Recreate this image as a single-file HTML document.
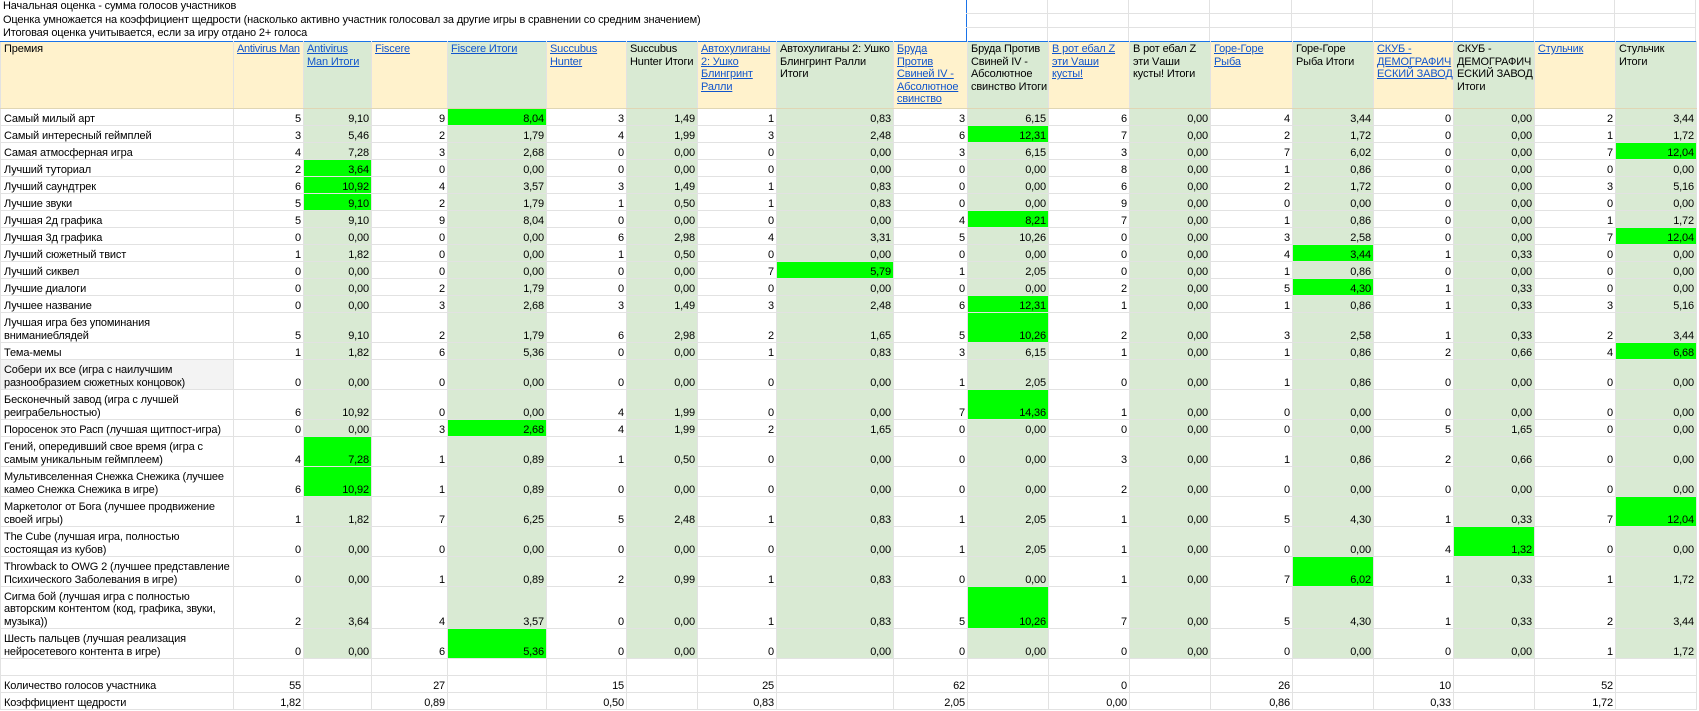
<!DOCTYPE html>
<html><head><meta charset="utf-8"><style>
html,body{margin:0;padding:0;background:#fff;width:1699px;height:711px;overflow:hidden}
body{font-family:"Liberation Sans",Arial,sans-serif;font-size:11px;letter-spacing:-0.15px;color:#000;position:relative}
.top{position:absolute;left:0;top:0;width:966px;height:41px;border-right:1px solid #1a73e8}
.top div{height:13.6px;line-height:13.6px;padding-left:3px;white-space:nowrap}
.tg{position:absolute;top:0;height:41px;border-right:1px solid #e2e2e2}
.hl{position:absolute;top:13px;left:966px;width:730px;border-top:1px solid #e2e2e2}
.hl2{position:absolute;top:27px;left:966px;width:730px;border-top:1px solid #e2e2e2}
table{position:absolute;left:0;top:41px;border-collapse:collapse;table-layout:fixed;width:1697px}
td{border:1px solid #e2e2e2;padding:0 2px 0 3px;line-height:12.5px;vertical-align:bottom;text-align:right;overflow:hidden;box-sizing:border-box}
tr.h td{vertical-align:top;text-align:left;background:#fff2cc;padding-top:1px;border-bottom:1px solid #e0d6b4;overflow-wrap:anywhere}
tr.h td.g{background:#d9ead3}
tr.h{height:67px}
tr.h1{height:17px}tr.h2{height:30px}tr.h3{height:42px}
td.l{text-align:left}
td.g{background:#d9ead3}
td.G{background:#00ff00}
td.s{background:#f3f3f3}
td.nw{white-space:nowrap;overflow-wrap:normal}
a{color:#1155cc;text-decoration:underline}
table tr:first-child td{border-top:1px solid #1a73e8}
</style></head><body>
<div class="top"><div>Начальная оценка - сумма голосов участников</div><div>Оценка умножается на коэффициент щедрости (насколько активно участник голосовал за другие игры в сравнении со средним значением)</div><div>Итоговая оценка учитывается, если за игру отдано 2+ голоса</div></div>
<div class="hl"></div><div class="hl2"></div>
<div class="tg" style="left:1047px"></div><div class="tg" style="left:1128px"></div><div class="tg" style="left:1209px"></div><div class="tg" style="left:1291px"></div><div class="tg" style="left:1372px"></div><div class="tg" style="left:1452px"></div><div class="tg" style="left:1533px"></div><div class="tg" style="left:1614px"></div><div class="tg" style="left:1695px"></div>
<table>
<colgroup><col style="width:233px"><col style="width:70px"><col style="width:68px"><col style="width:76px"><col style="width:99px"><col style="width:80px"><col style="width:71px"><col style="width:79px"><col style="width:117px"><col style="width:74px"><col style="width:81px"><col style="width:81px"><col style="width:81px"><col style="width:82px"><col style="width:81px"><col style="width:80px"><col style="width:81px"><col style="width:81px"><col style="width:81px"></colgroup>
<tr class="h"><td>Премия</td><td style="white-space:nowrap;letter-spacing:-0.3px"><a>Antivirus Man</a></td><td class="g"><a>Antivirus Man Итоги</a></td><td><a>Fiscere</a></td><td class="g"><a>Fiscere Итоги</a></td><td><a>Succubus Hunter</a></td><td class="g">Succubus Hunter Итоги</td><td><a>Автохулиганы 2: Ушко Блингринт Ралли</a></td><td class="g">Автохулиганы 2: Ушко Блингринт Ралли Итоги</td><td><a>Бруда Против Свиней IV - Абсолютное свинство</a></td><td class="g nw">Бруда Против<br>Свиней IV -<br>Абсолютное<br>свинство Итоги</td><td><a>В рот ебал Z эти Vаши кусты!</a></td><td class="g">В рот ебал Z эти Vаши кусты! Итоги</td><td><a>Горе-Горе Рыба</a></td><td class="g">Горе-Горе Рыба Итоги</td><td class="nw"><a>СКУБ -<br>ДЕМОГРАФИЧ<br>ЕСКИЙ ЗАВОД</a></td><td class="g nw">СКУБ -<br>ДЕМОГРАФИЧ<br>ЕСКИЙ ЗАВОД<br>Итоги</td><td><a>Стульчик</a></td><td class="g">Стульчик Итоги</td></tr>
<tr class="h1"><td class="l">Самый милый арт</td><td>5</td><td class="g">9,10</td><td>9</td><td class="G">8,04</td><td>3</td><td class="g">1,49</td><td>1</td><td class="g">0,83</td><td>3</td><td class="g">6,15</td><td>6</td><td class="g">0,00</td><td>4</td><td class="g">3,44</td><td>0</td><td class="g">0,00</td><td>2</td><td class="g">3,44</td></tr>
<tr class="h1"><td class="l">Самый интересный геймплей</td><td>3</td><td class="g">5,46</td><td>2</td><td class="g">1,79</td><td>4</td><td class="g">1,99</td><td>3</td><td class="g">2,48</td><td>6</td><td class="G">12,31</td><td>7</td><td class="g">0,00</td><td>2</td><td class="g">1,72</td><td>0</td><td class="g">0,00</td><td>1</td><td class="g">1,72</td></tr>
<tr class="h1"><td class="l">Самая атмосферная игра</td><td>4</td><td class="g">7,28</td><td>3</td><td class="g">2,68</td><td>0</td><td class="g">0,00</td><td>0</td><td class="g">0,00</td><td>3</td><td class="g">6,15</td><td>3</td><td class="g">0,00</td><td>7</td><td class="g">6,02</td><td>0</td><td class="g">0,00</td><td>7</td><td class="G">12,04</td></tr>
<tr class="h1"><td class="l">Лучший туториал</td><td>2</td><td class="G">3,64</td><td>0</td><td class="g">0,00</td><td>0</td><td class="g">0,00</td><td>0</td><td class="g">0,00</td><td>0</td><td class="g">0,00</td><td>8</td><td class="g">0,00</td><td>1</td><td class="g">0,86</td><td>0</td><td class="g">0,00</td><td>0</td><td class="g">0,00</td></tr>
<tr class="h1"><td class="l">Лучший саундтрек</td><td>6</td><td class="G">10,92</td><td>4</td><td class="g">3,57</td><td>3</td><td class="g">1,49</td><td>1</td><td class="g">0,83</td><td>0</td><td class="g">0,00</td><td>6</td><td class="g">0,00</td><td>2</td><td class="g">1,72</td><td>0</td><td class="g">0,00</td><td>3</td><td class="g">5,16</td></tr>
<tr class="h1"><td class="l">Лучшие звуки</td><td>5</td><td class="G">9,10</td><td>2</td><td class="g">1,79</td><td>1</td><td class="g">0,50</td><td>1</td><td class="g">0,83</td><td>0</td><td class="g">0,00</td><td>9</td><td class="g">0,00</td><td>0</td><td class="g">0,00</td><td>0</td><td class="g">0,00</td><td>0</td><td class="g">0,00</td></tr>
<tr class="h1"><td class="l">Лучшая 2д графика</td><td>5</td><td class="g">9,10</td><td>9</td><td class="g">8,04</td><td>0</td><td class="g">0,00</td><td>0</td><td class="g">0,00</td><td>4</td><td class="G">8,21</td><td>7</td><td class="g">0,00</td><td>1</td><td class="g">0,86</td><td>0</td><td class="g">0,00</td><td>1</td><td class="g">1,72</td></tr>
<tr class="h1"><td class="l">Лучшая 3д графика</td><td>0</td><td class="g">0,00</td><td>0</td><td class="g">0,00</td><td>6</td><td class="g">2,98</td><td>4</td><td class="g">3,31</td><td>5</td><td class="g">10,26</td><td>0</td><td class="g">0,00</td><td>3</td><td class="g">2,58</td><td>0</td><td class="g">0,00</td><td>7</td><td class="G">12,04</td></tr>
<tr class="h1"><td class="l">Лучший сюжетный твист</td><td>1</td><td class="g">1,82</td><td>0</td><td class="g">0,00</td><td>1</td><td class="g">0,50</td><td>0</td><td class="g">0,00</td><td>0</td><td class="g">0,00</td><td>0</td><td class="g">0,00</td><td>4</td><td class="G">3,44</td><td>1</td><td class="g">0,33</td><td>0</td><td class="g">0,00</td></tr>
<tr class="h1"><td class="l">Лучший сиквел</td><td>0</td><td class="g">0,00</td><td>0</td><td class="g">0,00</td><td>0</td><td class="g">0,00</td><td>7</td><td class="G">5,79</td><td>1</td><td class="g">2,05</td><td>0</td><td class="g">0,00</td><td>1</td><td class="g">0,86</td><td>0</td><td class="g">0,00</td><td>0</td><td class="g">0,00</td></tr>
<tr class="h1"><td class="l">Лучшие диалоги</td><td>0</td><td class="g">0,00</td><td>2</td><td class="g">1,79</td><td>0</td><td class="g">0,00</td><td>0</td><td class="g">0,00</td><td>0</td><td class="g">0,00</td><td>2</td><td class="g">0,00</td><td>5</td><td class="G">4,30</td><td>1</td><td class="g">0,33</td><td>0</td><td class="g">0,00</td></tr>
<tr class="h1"><td class="l">Лучшее название</td><td>0</td><td class="g">0,00</td><td>3</td><td class="g">2,68</td><td>3</td><td class="g">1,49</td><td>3</td><td class="g">2,48</td><td>6</td><td class="G">12,31</td><td>1</td><td class="g">0,00</td><td>1</td><td class="g">0,86</td><td>1</td><td class="g">0,33</td><td>3</td><td class="g">5,16</td></tr>
<tr class="h2"><td class="l">Лучшая игра без упоминания вниманиеблядей</td><td>5</td><td class="g">9,10</td><td>2</td><td class="g">1,79</td><td>6</td><td class="g">2,98</td><td>2</td><td class="g">1,65</td><td>5</td><td class="G">10,26</td><td>2</td><td class="g">0,00</td><td>3</td><td class="g">2,58</td><td>1</td><td class="g">0,33</td><td>2</td><td class="g">3,44</td></tr>
<tr class="h1"><td class="l">Тема-мемы</td><td>1</td><td class="g">1,82</td><td>6</td><td class="g">5,36</td><td>0</td><td class="g">0,00</td><td>1</td><td class="g">0,83</td><td>3</td><td class="g">6,15</td><td>1</td><td class="g">0,00</td><td>1</td><td class="g">0,86</td><td>2</td><td class="g">0,66</td><td>4</td><td class="G">6,68</td></tr>
<tr class="h2"><td class="l s">Собери их все (игра с наилучшим разнообразием сюжетных концовок)</td><td>0</td><td class="g">0,00</td><td>0</td><td class="g">0,00</td><td>0</td><td class="g">0,00</td><td>0</td><td class="g">0,00</td><td>1</td><td class="g">2,05</td><td>0</td><td class="g">0,00</td><td>1</td><td class="g">0,86</td><td>0</td><td class="g">0,00</td><td>0</td><td class="g">0,00</td></tr>
<tr class="h2"><td class="l">Бесконечный завод (игра с лучшей реиграбельностью)</td><td>6</td><td class="g">10,92</td><td>0</td><td class="g">0,00</td><td>4</td><td class="g">1,99</td><td>0</td><td class="g">0,00</td><td>7</td><td class="G">14,36</td><td>1</td><td class="g">0,00</td><td>0</td><td class="g">0,00</td><td>0</td><td class="g">0,00</td><td>0</td><td class="g">0,00</td></tr>
<tr class="h1"><td class="l">Поросенок это Расп (лучшая щитпост-игра)</td><td>0</td><td class="g">0,00</td><td>3</td><td class="G">2,68</td><td>4</td><td class="g">1,99</td><td>2</td><td class="g">1,65</td><td>0</td><td class="g">0,00</td><td>0</td><td class="g">0,00</td><td>0</td><td class="g">0,00</td><td>5</td><td class="g">1,65</td><td>0</td><td class="g">0,00</td></tr>
<tr class="h2"><td class="l">Гений, опередивший свое время (игра с самым уникальным геймплеем)</td><td>4</td><td class="G">7,28</td><td>1</td><td class="g">0,89</td><td>1</td><td class="g">0,50</td><td>0</td><td class="g">0,00</td><td>0</td><td class="g">0,00</td><td>3</td><td class="g">0,00</td><td>1</td><td class="g">0,86</td><td>2</td><td class="g">0,66</td><td>0</td><td class="g">0,00</td></tr>
<tr class="h2"><td class="l">Мультивселенная Снежка Снежика (лучшее камео Снежка Снежика в игре)</td><td>6</td><td class="G">10,92</td><td>1</td><td class="g">0,89</td><td>0</td><td class="g">0,00</td><td>0</td><td class="g">0,00</td><td>0</td><td class="g">0,00</td><td>2</td><td class="g">0,00</td><td>0</td><td class="g">0,00</td><td>0</td><td class="g">0,00</td><td>0</td><td class="g">0,00</td></tr>
<tr class="h2"><td class="l">Маркетолог от Бога (лучшее продвижение своей игры)</td><td>1</td><td class="g">1,82</td><td>7</td><td class="g">6,25</td><td>5</td><td class="g">2,48</td><td>1</td><td class="g">0,83</td><td>1</td><td class="g">2,05</td><td>1</td><td class="g">0,00</td><td>5</td><td class="g">4,30</td><td>1</td><td class="g">0,33</td><td>7</td><td class="G">12,04</td></tr>
<tr class="h2"><td class="l">The Cube (лучшая игра, полностью<br>состоящая из кубов)</td><td>0</td><td class="g">0,00</td><td>0</td><td class="g">0,00</td><td>0</td><td class="g">0,00</td><td>0</td><td class="g">0,00</td><td>1</td><td class="g">2,05</td><td>1</td><td class="g">0,00</td><td>0</td><td class="g">0,00</td><td>4</td><td class="G">1,32</td><td>0</td><td class="g">0,00</td></tr>
<tr class="h2"><td class="l">Throwback to OWG 2 (лучшее представление Психического Заболевания в игре)</td><td>0</td><td class="g">0,00</td><td>1</td><td class="g">0,89</td><td>2</td><td class="g">0,99</td><td>1</td><td class="g">0,83</td><td>0</td><td class="g">0,00</td><td>1</td><td class="g">0,00</td><td>7</td><td class="G">6,02</td><td>1</td><td class="g">0,33</td><td>1</td><td class="g">1,72</td></tr>
<tr class="h3"><td class="l">Сигма бой (лучшая игра с полностью авторским контентом (код, графика, звуки, музыка))</td><td>2</td><td class="g">3,64</td><td>4</td><td class="g">3,57</td><td>0</td><td class="g">0,00</td><td>1</td><td class="g">0,83</td><td>5</td><td class="G">10,26</td><td>7</td><td class="g">0,00</td><td>5</td><td class="g">4,30</td><td>1</td><td class="g">0,33</td><td>2</td><td class="g">3,44</td></tr>
<tr class="h2"><td class="l">Шесть пальцев (лучшая реализация нейросетевого контента в игре)</td><td>0</td><td class="g">0,00</td><td>6</td><td class="G">5,36</td><td>0</td><td class="g">0,00</td><td>0</td><td class="g">0,00</td><td>0</td><td class="g">0,00</td><td>0</td><td class="g">0,00</td><td>0</td><td class="g">0,00</td><td>0</td><td class="g">0,00</td><td>1</td><td class="g">1,72</td></tr>
<tr class="h1"><td></td><td></td><td></td><td></td><td></td><td></td><td></td><td></td><td></td><td></td><td></td><td></td><td></td><td></td><td></td><td></td><td></td><td></td><td></td></tr>
<tr class="h1"><td class="l">Количество голосов участника</td><td>55</td><td></td><td>27</td><td></td><td>15</td><td></td><td>25</td><td></td><td>62</td><td></td><td>0</td><td></td><td>26</td><td></td><td>10</td><td></td><td>52</td><td></td></tr>
<tr class="h1"><td class="l">Коэффициент щедрости</td><td>1,82</td><td></td><td>0,89</td><td></td><td>0,50</td><td></td><td>0,83</td><td></td><td>2,05</td><td></td><td>0,00</td><td></td><td>0,86</td><td></td><td>0,33</td><td></td><td>1,72</td><td></td></tr>
</table>
</body></html>
